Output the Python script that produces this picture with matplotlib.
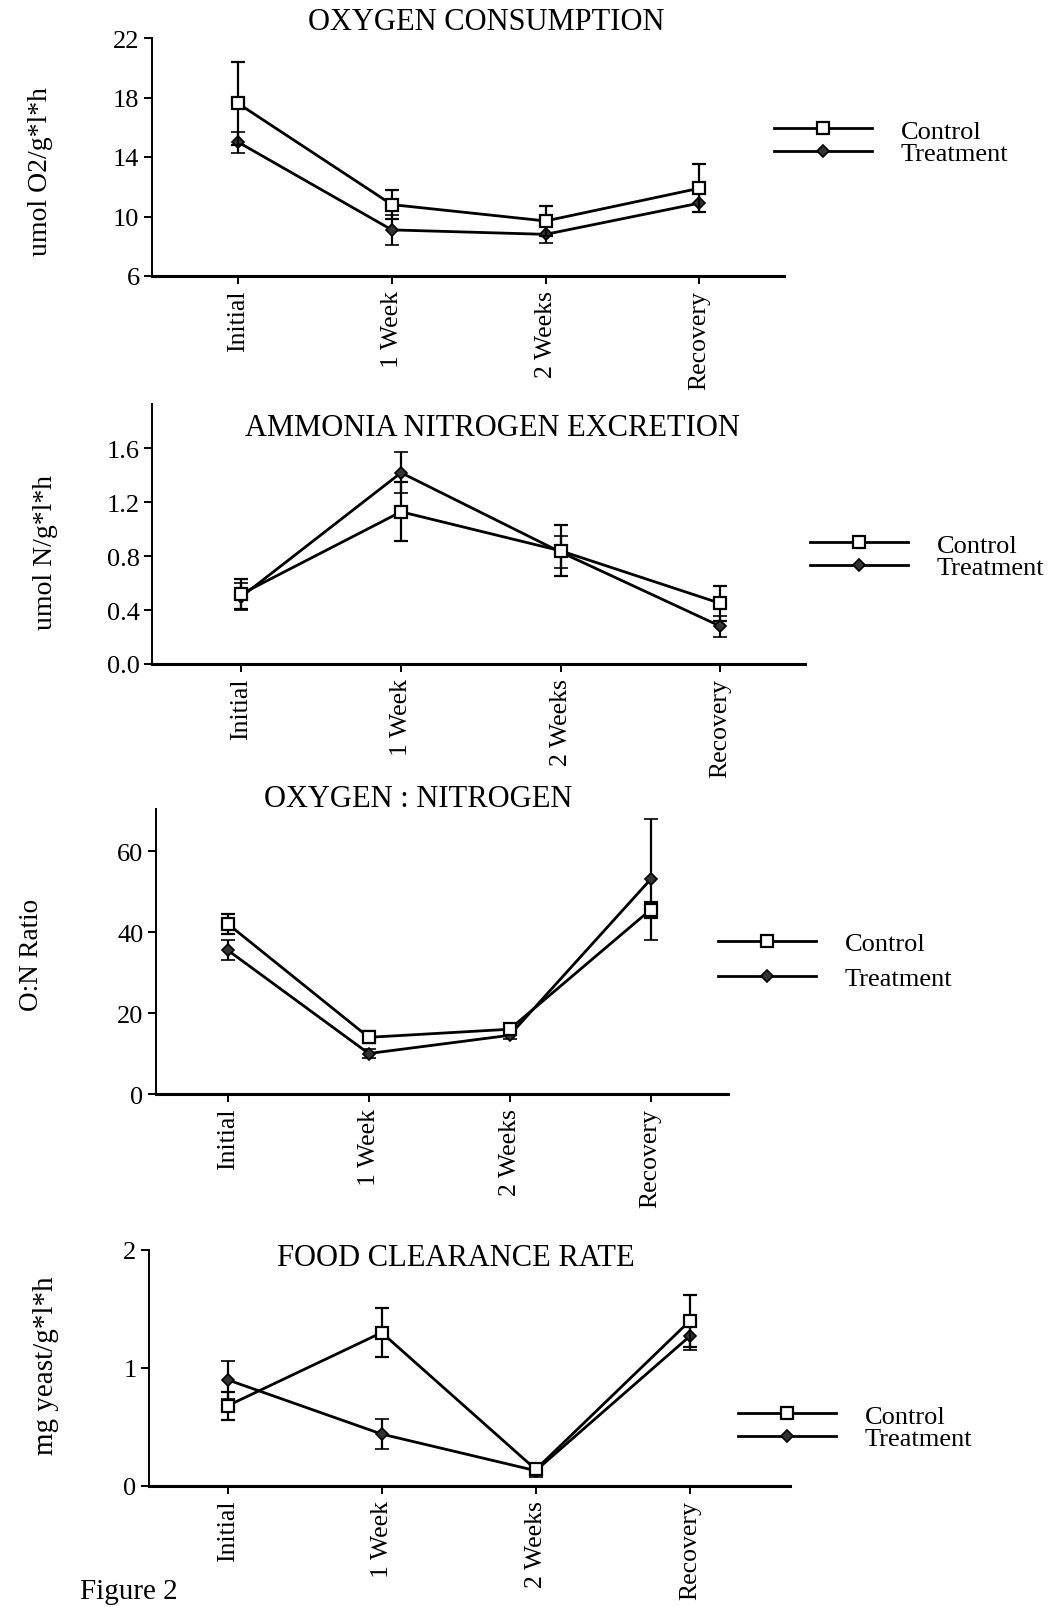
import matplotlib
matplotlib.use("Agg")
import matplotlib.pyplot as plt
from matplotlib.lines import Line2D

plt.rcParams['font.family'] = ['Liberation Serif', 'DejaVu Serif']

# sampling times shared by all four panels
categories = ["Initial", "1 Week", "2 Weeks", "Recovery"]

# oxygen consumption (umol O2/g*l*h)
o2_control = [17.6, 10.8, 9.7, 11.9]
o2_control_err = [2.8, 1.0, 1.0, 1.6]
o2_treat = [15.0, 9.1, 8.8, 10.9]
o2_treat_err = [0.7, 1.0, 0.6, 0.6]

# ammonia nitrogen excretion (umol N/g*l*h)
nh_control = [0.52, 1.13, 0.84, 0.45]
nh_control_err = [0.11, 0.22, 0.19, 0.13]
nh_treat = [0.50, 1.42, 0.83, 0.28]
nh_treat_err = [0.10, 0.15, 0.12, 0.08]

# O:N ratio
on_control = [42.0, 14.0, 16.0, 45.5]
on_control_err = [2.5, 1.5, 1.0, 2.0]
on_treat = [35.5, 10.0, 14.5, 53.0]
on_treat_err = [2.5, 1.0, 1.0, 15.0]

# food clearance rate (mg yeast/g*l*h)
fc_control = [0.68, 1.30, 0.14, 1.40]
fc_control_err = [0.12, 0.21, 0.05, 0.22]
fc_treat = [0.90, 0.44, 0.13, 1.27]
fc_treat_err = [0.16, 0.13, 0.05, 0.12]

W, H = 1049, 1608
fig = plt.figure(figsize=(W / 100, H / 100), dpi=100)

ctrl_style = dict(color='black', lw=2.0, marker='s', ms=9, mfc='white',
                  mec='black', mew=1.6)
trt_style = dict(color='black', lw=2.0, marker='D', ms=6, mfc='#333333',
                 mec='black', mew=1.2)


def add_px_axes(left, top, right, bottom):
    return fig.add_axes([left / W, 1 - bottom / H, (right - left) / W, (bottom - top) / H])


def draw_panel(box, xlim, ylim, yticks, ylabels, ctrl, ctrl_err, trt, trt_err,
               title, title_xy, ylabel, ylabel_xy, ylabel_size, legend_xy, legend_gap):
    ax = add_px_axes(*box)
    x = range(len(categories))
    ax.errorbar(x, ctrl, yerr=ctrl_err, capsize=5, elinewidth=1.6, capthick=1.6,
                zorder=3, **ctrl_style)
    ax.errorbar(x, trt, yerr=trt_err, capsize=5, elinewidth=1.6, capthick=1.6,
                zorder=2, **trt_style)
    ax.set_xlim(*xlim)
    ax.set_ylim(*ylim)
    ax.set_xticks(list(x))
    ax.set_xticklabels(categories, rotation=90, fontsize=18.5)
    ax.set_yticks(yticks)
    ax.set_yticklabels(ylabels, fontsize=19)
    for side in ('top', 'right'):
        ax.spines[side].set_visible(False)
    ax.spines['left'].set_linewidth(1.4)
    ax.spines['bottom'].set_linewidth(2.2)
    ax.tick_params(axis='y', direction='out', length=6, width=1.4, pad=3)
    ax.tick_params(axis='x', direction='out', length=6, width=1.4, pad=4)
    ax.patch.set_alpha(0)

    fig.text(title_xy[0] / W, 1 - title_xy[1] / H, title, ha='center', va='center',
             fontsize=22)
    fig.text(ylabel_xy[0] / W, 1 - ylabel_xy[1] / H, ylabel, ha='center', va='center',
             rotation=90, fontsize=ylabel_size)

    handles = [Line2D([], [], **ctrl_style), Line2D([], [], **trt_style)]
    ax.legend(handles, ['Control', 'Treatment'], loc='center left',
              bbox_to_anchor=(legend_xy[0] / W, 1 - legend_xy[1] / H),
              bbox_transform=fig.transFigure, frameon=False, fontsize=19,
              handlelength=3.7, handletextpad=1.1, labelspacing=legend_gap,
              numpoints=1, borderpad=0, borderaxespad=0)
    return ax


draw_panel((152, 39, 784, 277), (-0.56, 3.55), (6, 22), [6, 10, 14, 18, 22],
           ["6", "10", "14", "18", "22"],
           o2_control, o2_control_err, o2_treat, o2_treat_err,
           "OXYGEN CONSUMPTION", (486, 23),
           "umol O2/g*l*h", (41, 172), 20, (774, 143), -0.05)

draw_panel((152, 405, 805, 665), (-0.56, 3.53), (0, 1.93), [0, 0.4, 0.8, 1.2, 1.6],
           ["0.0", "0.4", "0.8", "1.2", "1.6"],
           nh_control, nh_control_err, nh_treat, nh_treat_err,
           "AMMONIA NITROGEN EXCRETION", (492, 428),
           "umol N/g*l*h", (46, 553), 20, (810, 557), -0.05)

draw_panel((156, 810, 728, 1095), (-0.51, 3.55), (0, 70.4), [0, 20, 40, 60],
           ["0", "20", "40", "60"],
           on_control, on_control_err, on_treat, on_treat_err,
           "OXYGEN : NITROGEN", (418, 800),
           "O:N Ratio", (31, 955), 19.5, (718, 962), 0.45)

draw_panel((149, 1251, 790, 1487), (-0.51, 3.65), (0, 2.0), [0, 1, 2],
           ["0", "1", "2"],
           fc_control, fc_control_err, fc_treat, fc_treat_err,
           "FOOD CLEARANCE RATE", (456, 1259),
           "mg yeast/g*l*h", (46, 1366), 21, (738, 1428), -0.05)

fig.text(80 / W, 1 - 1605 / H, "Figure 2", ha='left', va='bottom', fontsize=21)

fig.savefig("out.png", dpi=100, facecolor='white')
